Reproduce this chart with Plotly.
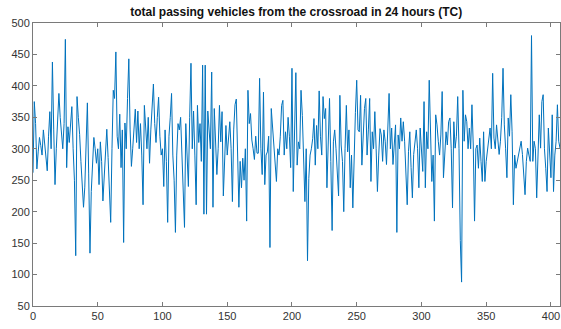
import plotly.graph_objects as go

title_text = "total passing vehicles from the crossroad in 24 hours (TC)"

tc_values = [
    262, 375, 340, 268, 295, 318, 305, 290, 330, 310,
    290, 265, 320, 359, 300, 438, 330, 243, 300, 340,
    388, 350, 317, 300, 340, 474, 270, 335, 310, 340,
    367, 300, 250, 130, 383, 350, 323, 280, 240, 207,
    239, 300, 373, 260, 134, 232, 270, 318, 300, 277,
    300, 243, 311, 280, 217, 250, 290, 331, 286, 240,
    183, 300, 393, 380, 454, 320, 300, 355, 270, 330,
    151, 341, 300, 380, 443, 330, 272, 300, 340, 363,
    310, 360, 300, 340, 290, 211, 369, 330, 300, 350,
    277, 330, 360, 403, 340, 310, 350, 382, 320, 290,
    300, 240, 330, 280, 183, 320, 350, 388, 290, 250,
    167, 290, 340, 330, 350, 300, 250, 175, 340, 300,
    240, 350, 436, 300, 360, 290, 211, 369, 310, 340,
    280, 433, 196, 433, 196, 360, 320, 300, 422, 207,
    364, 300, 259, 300, 369, 311, 359, 225, 290, 337,
    290, 311, 343, 300, 216, 330, 370, 379, 275, 207,
    280, 238, 285, 250, 300, 185, 393, 340, 356, 314,
    300, 283, 320, 293, 293, 412, 300, 259, 390, 243,
    290, 295, 320, 143, 364, 330, 306, 280, 248, 300,
    290, 320, 369, 377, 290, 327, 300, 350, 320, 270,
    428, 232, 306, 421, 274, 311, 300, 393, 353, 300,
    216, 300, 122, 253, 290, 300, 316, 348, 274, 337,
    300, 392, 320, 290, 383, 348, 364, 238, 300, 380,
    280, 170, 311, 330, 300, 260, 225, 385, 306, 280,
    200, 300, 369, 295, 330, 238, 290, 206, 300, 358,
    409, 330, 327, 385, 274, 320, 364, 380, 290, 330,
    380, 248, 327, 300, 359, 300, 232, 290, 332, 322,
    280, 330, 312, 275, 320, 388, 300, 333, 275, 300,
    338, 167, 322, 300, 349, 312, 343, 312, 260, 211,
    296, 327, 270, 222, 291, 317, 330, 300, 238, 333,
    290, 264, 375, 238, 327, 300, 409, 312, 248, 290,
    185, 354, 338, 312, 290, 322, 391, 254, 300, 327,
    306, 343, 349, 300, 206, 343, 301, 320, 383, 300,
    154, 88, 393, 312, 354, 343, 300, 333, 300, 370,
    306, 185, 300, 306, 269, 317, 280, 248, 327, 248,
    280, 301, 320, 333, 300, 420, 317, 300, 338, 310,
    291, 312, 350, 428, 338, 300, 254, 349, 320, 386,
    327, 211, 290, 269, 280, 291, 300, 312, 291, 260,
    227, 280, 301, 290, 280, 480, 280, 312, 300, 222,
    300, 354, 301, 375, 386, 300, 269, 232, 333, 300,
    254, 354, 232, 290, 312, 370, 312, 301,
]
x_index = list(range(len(tc_values)))

x_ticks = [0, 50, 100, 150, 200, 250, 300, 350, 400]
y_ticks = [50, 100, 150, 200, 250, 300, 350, 400, 450, 500]

fig = go.Figure()
fig.add_trace(go.Scatter(
    x=x_index, y=tc_values, mode="lines",
    line=dict(color="#0072BD", width=1),
    hoverinfo="skip", showlegend=False,
))

axis_common = dict(
    showgrid=False, zeroline=False,
    showline=True, linecolor="#7a7a7a", linewidth=1, mirror="ticks",
    ticks="inside", ticklen=4, tickcolor="#7a7a7a", tickwidth=1,
    tickfont=dict(family="Liberation Sans, Arial, sans-serif", size=11, color="#333333"),
)

fig.update_layout(
    width=561, height=329,
    margin=dict(l=33, r=1, t=23, b=23),
    paper_bgcolor="white", plot_bgcolor="white",
    title=dict(
        text="<b>" + title_text + "</b>",
        x=0.528, xanchor="center", y=0.965, yanchor="middle",
        font=dict(family="Liberation Sans, Arial, sans-serif", size=12, color="#111111"),
    ),
    xaxis=dict(range=[0, 407], tickvals=x_ticks, ticktext=[str(v) for v in x_ticks], **axis_common),
    yaxis=dict(range=[50, 500], tickvals=y_ticks, ticktext=[str(v) for v in y_ticks], **axis_common),
)

fig.write_html("out.html")
